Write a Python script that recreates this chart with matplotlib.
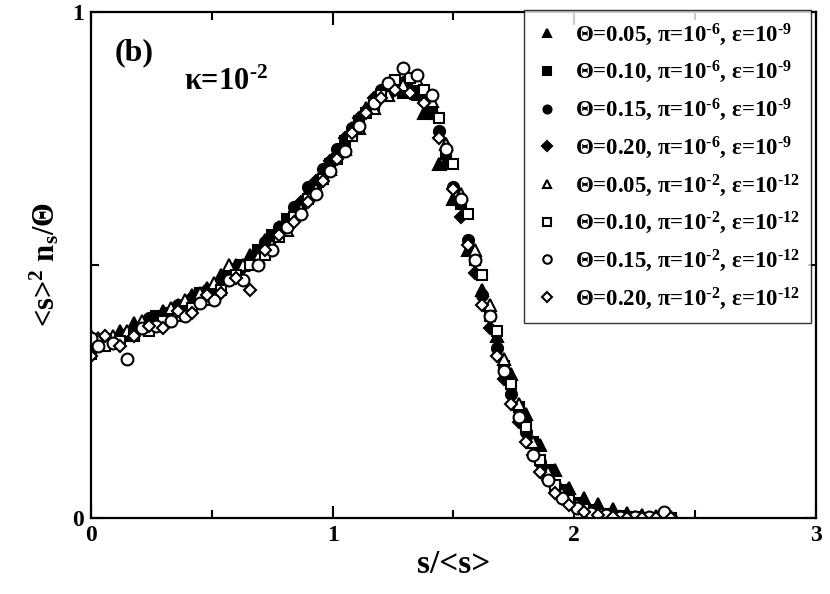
import matplotlib
matplotlib.use('Agg')
import matplotlib.pyplot as plt
from matplotlib.lines import Line2D
from matplotlib.ticker import MultipleLocator

plt.rcParams['font.family'] = ['Liberation Serif', 'DejaVu Serif']
plt.rcParams['font.weight'] = 'bold'
plt.rcParams['mathtext.fontset'] = 'custom'
plt.rcParams['mathtext.rm'] = 'Liberation Serif:bold'
plt.rcParams['mathtext.it'] = 'Liberation Serif:bold'
plt.rcParams['mathtext.bf'] = 'Liberation Serif:bold'

# two bin grids of s/<s>
x_a = [0.00, 0.06, 0.12, 0.18, 0.24, 0.30, 0.36, 0.42, 0.48, 0.54, 0.60, 0.66, 0.72, 0.78,
       0.84, 0.90, 0.96, 1.02, 1.08, 1.14, 1.20, 1.26, 1.32, 1.38, 1.44, 1.50, 1.56, 1.62,
       1.68, 1.74, 1.80, 1.86, 1.92, 1.98, 2.04, 2.10, 2.16, 2.22, 2.28, 2.34, 2.40]
x_b = [0.00, 0.03, 0.09, 0.15, 0.21, 0.27, 0.33, 0.39, 0.45, 0.51, 0.57, 0.63, 0.69, 0.75,
       0.81, 0.87, 0.93, 0.99, 1.05, 1.11, 1.17, 1.23, 1.29, 1.35, 1.41, 1.47, 1.53, 1.59,
       1.65, 1.71, 1.77, 1.83, 1.89, 1.95, 2.01, 2.07, 2.13, 2.19, 2.25, 2.31, 2.37]

# theta=0.05, pi=1e-6
y_t05_a = [0.36, 0.36, 0.37, 0.385, 0.39, 0.41, 0.42, 0.44, 0.455, 0.48, 0.50, 0.52, 0.55, 0.575,
           0.61, 0.645, 0.685, 0.725, 0.77, 0.81, 0.835, 0.85, 0.85, 0.80, 0.70, 0.63, 0.53, 0.45,
           0.36, 0.285, 0.205, 0.145, 0.095, 0.06, 0.04, 0.028, 0.018, 0.01, 0.006, 0.004, 0.003]
# theta=0.10, pi=1e-6
y_t10_a = [0.33, 0.345, 0.35, 0.36, 0.375, 0.40, 0.405, 0.415, 0.445, 0.45, 0.475, 0.50, 0.53, 0.56,
           0.59, 0.615, 0.655, 0.70, 0.745, 0.785, 0.815, 0.84, 0.84, 0.835, 0.80, 0.72, 0.62, 0.51,
           0.40, 0.30, 0.22, 0.15, 0.095, 0.055, 0.03, 0.016, 0.008, 0.004, 0.002, 0.001, 0.001]
# theta=0.15, pi=1e-6
y_t15_a = [0.355, 0.35, 0.36, 0.375, 0.395, 0.40, 0.42, 0.435, 0.45, 0.47, 0.495, 0.505, 0.545, 0.575,
           0.615, 0.655, 0.69, 0.73, 0.77, 0.805, 0.845, 0.86, 0.855, 0.83, 0.765, 0.655, 0.55, 0.44,
           0.335, 0.245, 0.17, 0.11, 0.065, 0.036, 0.018, 0.009, 0.004, 0.002, 0.001, 0.001, 0.001]
# theta=0.20, pi=1e-6
y_t20_a = [0.34, 0.35, 0.355, 0.365, 0.38, 0.39, 0.41, 0.42, 0.435, 0.45, 0.47, 0.495, 0.52, 0.55,
           0.585, 0.625, 0.665, 0.705, 0.75, 0.79, 0.83, 0.855, 0.86, 0.845, 0.80, 0.70, 0.595, 0.485,
           0.375, 0.275, 0.19, 0.125, 0.075, 0.04, 0.02, 0.01, 0.005, 0.002, 0.001, 0.001, 0.001]
# theta=0.05, pi=1e-2
y_t05_b = [0.345, 0.355, 0.36, 0.37, 0.39, 0.385, 0.415, 0.43, 0.445, 0.465, 0.50, 0.50, 0.515, 0.54,
           0.57, 0.61, 0.65, 0.69, 0.73, 0.77, 0.81, 0.835, 0.855, 0.865, 0.825, 0.74, 0.64, 0.53,
           0.42, 0.315, 0.225, 0.15, 0.09, 0.05, 0.027, 0.013, 0.006, 0.003, 0.002, 0.001, 0.001]
# theta=0.10, pi=1e-2
y_t10_b = [0.325, 0.34, 0.35, 0.36, 0.37, 0.39, 0.40, 0.415, 0.43, 0.45, 0.48, 0.50, 0.52, 0.555,
           0.595, 0.63, 0.67, 0.71, 0.755, 0.80, 0.835, 0.865, 0.87, 0.845, 0.79, 0.70, 0.60, 0.48,
           0.37, 0.265, 0.18, 0.115, 0.065, 0.035, 0.017, 0.008, 0.004, 0.002, 0.001, 0.001, 0.001]
# theta=0.15, pi=1e-2
y_t15_b = [0.355, 0.34, 0.345, 0.315, 0.375, 0.38, 0.39, 0.40, 0.425, 0.43, 0.47, 0.47, 0.50, 0.53,
           0.575, 0.60, 0.64, 0.685, 0.725, 0.775, 0.82, 0.86, 0.89, 0.875, 0.835, 0.73, 0.63, 0.51,
           0.40, 0.29, 0.20, 0.125, 0.075, 0.04, 0.02, 0.01, 0.005, 0.003, 0.002, 0.002, 0.012]
# theta=0.20, pi=1e-2
y_t20_b = [0.32, 0.36, 0.34, 0.36, 0.38, 0.375, 0.41, 0.405, 0.44, 0.445, 0.475, 0.45, 0.53, 0.56,
           0.585, 0.625, 0.665, 0.71, 0.76, 0.80, 0.83, 0.845, 0.84, 0.82, 0.75, 0.65, 0.54, 0.42,
           0.32, 0.225, 0.15, 0.09, 0.05, 0.025, 0.012, 0.005, 0.002, 0.001, 0.001, 0.001, 0.001]

labels = [
    'Θ=0.05, π=10$^{‐6}$, ε=10$^{‐9}$',
    'Θ=0.10, π=10$^{‐6}$, ε=10$^{‐9}$',
    'Θ=0.15, π=10$^{‐6}$, ε=10$^{‐9}$',
    'Θ=0.20, π=10$^{‐6}$, ε=10$^{‐9}$',
    'Θ=0.05, π=10$^{‐2}$, ε=10$^{‐12}$',
    'Θ=0.10, π=10$^{‐2}$, ε=10$^{‐12}$',
    'Θ=0.15, π=10$^{‐2}$, ε=10$^{‐12}$',
    'Θ=0.20, π=10$^{‐2}$, ε=10$^{‐12}$',
]

series = [
    (x_a, y_t05_a, '^', 'black', 8.5),
    (x_b, y_t10_a, 's', 'black', 7.5),
    (x_a, y_t15_a, 'o', 'black', 8.0),
    (x_b, y_t20_a, 'D', 'black', 6.5),
    (x_b, y_t05_b, '^', 'white', 8.5),
    (x_a, y_t10_b, 's', 'white', 7.5),
    (x_b, y_t15_b, 'o', 'white', 8.5),
    (x_a, y_t20_b, 'D', 'white', 6.5),
]

fig = plt.figure(figsize=(8.3, 5.94), dpi=100)
ax = fig.add_axes([0.1096, 0.1279, 0.8735, 0.852])

for x, y, m, fc, ms in series:
    ax.plot(x, y, linestyle='none', marker=m, ms=ms, mfc=fc, mec='black', mew=1.5)

ax.set_xlim(0, 3)
ax.set_ylim(0, 1)
ax.xaxis.set_major_locator(MultipleLocator(1))
ax.xaxis.set_minor_locator(MultipleLocator(0.5))
ax.yaxis.set_major_locator(MultipleLocator(1))
ax.yaxis.set_minor_locator(MultipleLocator(0.5))
ax.tick_params(which='both', direction='in', top=True, right=True, width=1.5, labelsize=17)
ax.tick_params(which='major', length=9, pad=5)
ax.tick_params(which='minor', length=5.5)
for sp in ax.spines.values():
    sp.set_linewidth(1.6)

ax.set_xlabel('s/<s>', fontsize=24, fontweight='bold', labelpad=2)
ax.set_ylabel('<s>$^{2}$ n$_{s}$/Θ', fontsize=22, fontweight='bold', labelpad=8)

ax.text(0.033, 0.905, '(b)', transform=ax.transAxes, fontsize=23, fontweight='bold')
ax.text(0.129, 0.845, 'κ=10$^{‐2}$', transform=ax.transAxes, fontsize=22, fontweight='bold')

handles = []
for x, y, m, fc, ms in series:
    handles.append(Line2D([], [], linestyle='none', marker=m, ms=ms * 0.72, mfc=fc,
                          mec='black', mew=1.5))
leg = ax.legend(handles, labels, loc='upper right', bbox_to_anchor=(0.993, 1.004),
                fontsize=16.5, frameon=True, fancybox=False, handletextpad=0.7,
                handlelength=1.0, labelspacing=0.5, borderpad=0.5, borderaxespad=0)
leg.get_frame().set_edgecolor('black')
leg.get_frame().set_linewidth(1.0)

fig.savefig('out.png', dpi=100)
plt.close(fig)
